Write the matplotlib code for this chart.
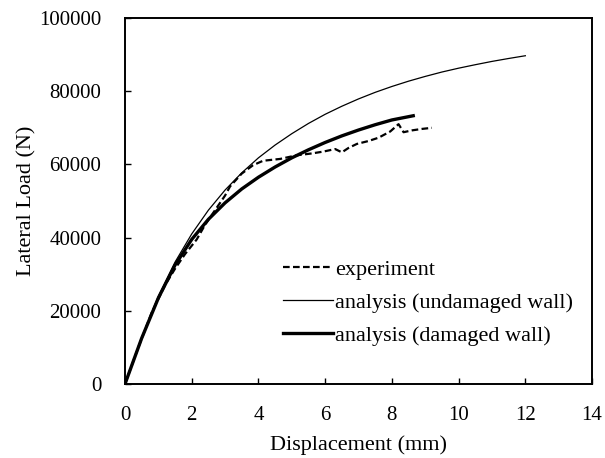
import matplotlib.pyplot as plt

plt.rcParams['font.family'] = ['Liberation Serif', 'DejaVu Serif']

# experiment (dashed)
exp_disp = [0, 0.4, 0.8, 1.2, 1.5, 1.8, 2.15, 2.4, 2.7, 3.0, 3.15, 3.5, 3.84, 4.14, 4.65,
            5.15, 5.6, 5.94, 6.3, 6.5, 6.7, 6.95, 7.3, 7.6, 7.95, 8.2, 8.35, 8.6, 8.9, 9.2]
exp_load = [0, 10000, 19500, 27000, 31500, 35500, 39500, 43500, 47500, 51500, 54000, 57500,
            59800, 61000, 61500, 62500, 63000, 63500, 64200, 63300, 64500, 65600, 66400,
            67300, 69000, 71000, 68800, 69300, 69700, 70000]

# analysis, undamaged wall (thin)
und_disp = [0, 0.5, 1.0, 1.5, 2.0, 2.5, 3.0, 3.5, 4.0, 4.5, 5.0, 5.5, 6.0, 6.5, 7.0, 7.5,
            8.0, 8.5, 9.0, 9.5, 10.0, 10.5, 11.0, 11.5, 12.0]
und_load = [0, 12600, 24000, 33300, 41000, 47500, 53000, 57700, 61800, 65300, 68400, 71200,
            73700, 75900, 77900, 79700, 81300, 82750, 84050, 85250, 86300, 87250, 88150,
            88950, 89700]

# analysis, damaged wall (thick)
dam_disp = [0, 0.5, 1.0, 1.5, 2.0, 2.5, 3.0, 3.5, 4.0, 4.5, 5.0, 5.5, 6.0, 6.5, 7.0, 7.5,
            8.0, 8.64]
dam_load = [0, 12500, 23500, 32500, 39500, 45000, 49500, 53300, 56500, 59300, 61800, 64000,
            66000, 67800, 69400, 70850, 72150, 73300]

fig = plt.figure(figsize=(6.05, 4.58), dpi=100)
ax = fig.add_axes([0.2066, 0.1616, 0.772, 0.799])

ax.plot(exp_disp, exp_load, color='black', lw=1.6, ls=(0, (3, 1.5)), label='experiment')
ax.plot(und_disp, und_load, color='black', lw=0.9, label='analysis (undamaged wall)')
ax.plot(dam_disp, dam_load, color='black', lw=2.4, label='analysis (damaged wall)')

ax.set_xlim(0, 14)
ax.set_ylim(0, 100000)
ax.set_xticks(range(0, 15, 2))
ax.set_yticks(range(0, 100001, 20000))
ax.tick_params(direction='in', length=4, width=1, labelsize=15)
ax.tick_params(axis='x', pad=15.5)
ax.tick_params(axis='y', pad=17)
for s in ax.spines.values():
    s.set_linewidth(1.4)

ax.set_xlabel('Displacement (mm)', fontsize=16, labelpad=8)
ax.set_ylabel('Lateral Load (N)', fontsize=16, labelpad=2)

ax.legend(loc='lower left', bbox_to_anchor=(0.315, 0.073), frameon=False, fontsize=16,
          handlelength=2.25, handletextpad=0.1, labelspacing=0.56, borderpad=0)

fig.savefig('out.png', dpi=100)
